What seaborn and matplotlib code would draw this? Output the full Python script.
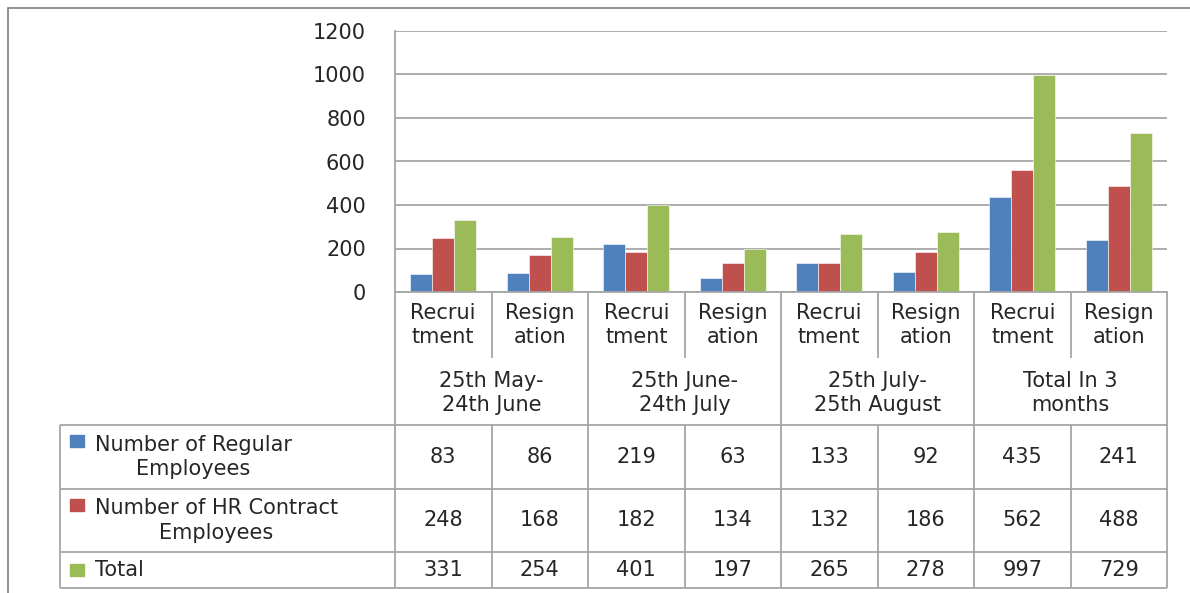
import matplotlib
matplotlib.use("Agg")
import matplotlib.pyplot as plt
import seaborn as sns
import pandas as pd

# ---- data ----
groups = ["25th May-\n24th June", "25th June-\n24th July", "25th July-\n25th August", "Total In 3\nmonths"]
subcats = ["Recrui\ntment", "Resign\nation"]
series = ["Number of Regular\nEmployees", "Number of HR Contract\nEmployees", "Total"]
regular = [83, 86, 219, 63, 133, 92, 435, 241]
contract = [248, 168, 182, 134, 132, 186, 562, 488]
total = [331, 254, 401, 197, 265, 278, 997, 729]
yticks = [0, 200, 400, 600, 800, 1000, 1200]
colors = ["#4F81BD", "#C0504D", "#9BBB59"]

cols = [f"c{i}" for i in range(len(regular))]
rows = []
for name, vals in zip(series, [regular, contract, total]):
    for c, v in zip(cols, vals):
        rows.append({"col": c, "series": name, "value": v})
df = pd.DataFrame(rows)

sns.set_theme(style="white")
plt.rcParams["font.family"] = ["DejaVu Sans"]
FS = 15
TXT = "#262626"
LINE = "#A6A6A6"

W, H = 1190, 593
fig = plt.figure(figsize=(W / 100, H / 100), dpi=100)
fig.patch.set_facecolor("white")

L, R, T, B = 395, 1167, 31, 292
ax = fig.add_axes([L / W, 1 - B / H, (R - L) / W, (B - T) / H])
sns.barplot(data=df, x="col", y="value", hue="series", order=cols, hue_order=series,
            palette=colors, width=0.68, ax=ax, legend=False, saturation=1,
            edgecolor="white", linewidth=0.4)
ax.set_xlim(-0.5, len(cols) - 0.5)
ax.set_ylim(0, 1200)
ax.set_yticks(yticks)
ax.set_yticklabels([str(t) for t in yticks], fontsize=FS, color=TXT)
ax.tick_params(axis="y", length=0, pad=21)
ax.set_xticks([])
ax.set_xlabel("")
ax.set_ylabel("")
ax.grid(axis="y", color=LINE, linewidth=1.3)
ax.set_axisbelow(True)
for s in ["top", "right"]:
    ax.spines[s].set_visible(False)
for s in ["left", "bottom"]:
    ax.spines[s].set_color(LINE)
    ax.spines[s].set_linewidth(1.3)

# ---- overlay for the data table ----
ov = fig.add_axes([0, 0, 1, 1], zorder=-1)
ov.set_xlim(0, W)
ov.set_ylim(H, 0)
ov.axis("off")

n = len(cols)
cw = (R - L) / n
bounds = [L + i * cw for i in range(n + 1)]
row_cat_mid, row_grp_mid = 325, 393
tab_top, tab_left = 425, 60
row_edges = [425, 489, 552, 588]
lk = dict(color=LINE, linewidth=1.3, solid_capstyle="butt")

# category + group label lines
for i, x in enumerate(bounds):
    if i == 0:
        continue
    if i % 2 == 1:
        ov.plot([x, x], [B, 358], **lk)
    else:
        ov.plot([x, x], [B, tab_top], **lk)
# table
ov.plot([L, L], [B, row_edges[-1]], **lk)
for y in row_edges:
    ov.plot([tab_left, R], [y, y], **lk)
ov.plot([tab_left, tab_left], [row_edges[0], row_edges[-1]], **lk)
for x in bounds[1:]:
    ov.plot([x, x], [row_edges[0], row_edges[-1]], **lk)

# text: category labels
for i in range(n):
    xc = (bounds[i] + bounds[i + 1]) / 2
    ov.text(xc, row_cat_mid, subcats[i % 2], ha="center", va="center",
            fontsize=FS, color=TXT, linespacing=1.3)
for g in range(len(groups)):
    xc = (bounds[2 * g] + bounds[2 * g + 2]) / 2
    ov.text(xc, row_grp_mid, groups[g], ha="center", va="center",
            fontsize=FS, color=TXT, linespacing=1.3)

# legend column + values
for r, (name, vals, col) in enumerate(zip(series, [regular, contract, total], colors)):
    y0, y1 = row_edges[r], row_edges[r + 1]
    ym = (y0 + y1) / 2
    first_line_y = y0 + 16 if "\n" in name else ym
    ov.add_patch(plt.Rectangle((70, first_line_y - 6), 14, 12, color=col))
    ov.text(95, ym, name, ha="left", va="center", multialignment="center",
            fontsize=FS, color=TXT, linespacing=1.3)
    for i, v in enumerate(vals):
        xc = (bounds[i] + bounds[i + 1]) / 2
        ov.text(xc, ym, str(v), ha="center", va="center", fontsize=FS, color=TXT)

# outer frame
ov.plot([8, W], [8, 8], color="#7F7F7F", linewidth=1.2)
ov.plot([8, 8], [8, H], color="#7F7F7F", linewidth=1.2)

fig.savefig("out.png", dpi=100)
